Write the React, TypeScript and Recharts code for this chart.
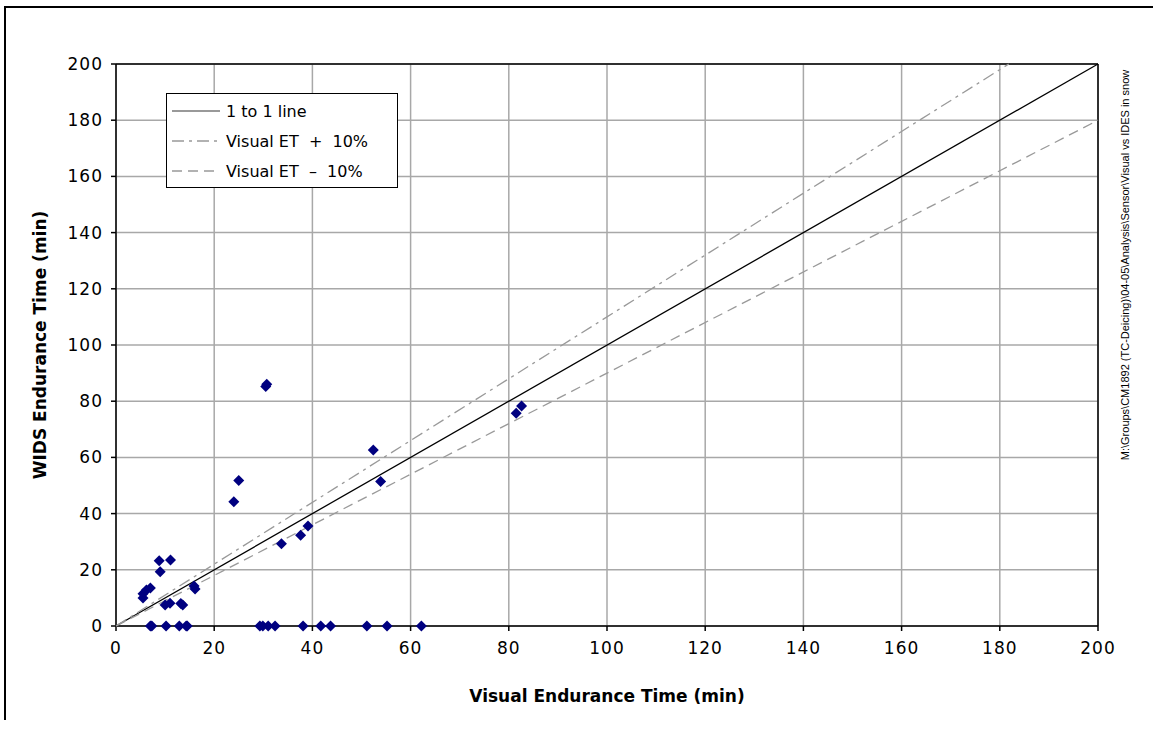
import React from "react";
import {
  ScatterChart,
  Scatter,
  XAxis,
  YAxis,
  CartesianGrid,
  ReferenceLine
} from "recharts";

// visual endurance time (x) vs WIDS endurance time (y), minutes
const visualET = [
  5.5, 5.5, 6.2, 7, 8.8, 9.0, 11.1, 10.0, 11.0, 13.2, 13.6, 15.9, 16.1,
  7.0, 7.3, 10.2, 12.9, 14.3, 14.5,
  24.0, 25.0, 30.5, 30.7, 33.7, 37.6, 39.1, 52.4, 53.9, 81.5, 82.6,
  29.3, 29.9, 31.0, 32.4, 38.1, 41.7, 43.7, 51.1, 55.2, 62.2
];
const widsET = [
  10, 11.5, 12.8, 13.5, 23.2, 19.3, 23.5, 7.5, 8.1, 8.0, 7.5, 14.2, 13.2,
  0, 0, 0, 0, 0, 0,
  44.2, 51.8, 85.2, 86.0, 29.3, 32.3, 35.6, 62.6, 51.4, 75.7, 78.3,
  0, 0, 0, 0, 0, 0, 0, 0, 0, 0
];

const oneToOneX = [0, 200];
const oneToOneY = [0, 200];
const plusTenX = [0, 181.82];
const plusTenY = [0, 200];
const minusTenX = [0, 200];
const minusTenY = [0, 180];

const axisTicks = [0, 20, 40, 60, 80, 100, 120, 140, 160, 180, 200];

const points = visualET.map((x, i) => ({ x, y: widsET[i] }));
const zip = (xs: number[], ys: number[]) => xs.map((x, i) => ({ x, y: ys[i] }));

const lineSeries = [
  { name: "1 to 1 line", data: zip(oneToOneX, oneToOneY), stroke: "#000000", dash: undefined as string | undefined, legendStroke: "#777777" },
  { name: "Visual ET  +  10%", data: zip(plusTenX, plusTenY), stroke: "#999999", dash: "12 5 3 5", legendStroke: "#999999" },
  { name: "Visual ET  \u2013  10%", data: zip(minusTenX, minusTenY), stroke: "#999999", dash: "10 6", legendStroke: "#999999" }
];

const Diamond = (props: any) => {
  const { cx, cy } = props;
  if (cx == null || cy == null) return <g />;
  const r = 5.5;
  return (
    <polygon
      points={`${cx},${cy - r} ${cx + r},${cy} ${cx},${cy + r} ${cx - r},${cy}`}
      fill="#000080"
    />
  );
};

const NoDot = () => <g />;

const LegendBox = () => (
  <div
    style={{
      position: "absolute",
      left: 166,
      top: 93,
      border: "1px solid #000",
      background: "#fff",
      width: 230,
      padding: "2px 0 1px 0",
      fontFamily: "DejaVu Sans, Verdana, sans-serif",
      fontSize: 16,
      color: "#000"
    }}
  >
    {lineSeries.map((s) => (
      <div key={s.name} style={{ display: "flex", alignItems: "center", height: 30 }}>
        <svg width={54} height={10} style={{ marginLeft: 5 }}>
          <line x1={0} y1={5} x2={48} y2={5} stroke={s.legendStroke} strokeWidth={1.5} strokeDasharray={s.dash} />
        </svg>
        <span style={{ whiteSpace: "pre" }}>{s.name}</span>
      </div>
    ))}
  </div>
);

export default function App() {
  const tickStyle = { fill: "#000", fontSize: 17, letterSpacing: 1, fontFamily: "DejaVu Sans, Verdana, sans-serif" };
  return (
    <div style={{ position: "absolute", left: 0, top: 0, width: 1153, height: 732, background: "#fff" }}>
      {/* outer frame, only left and top edges visible */}
      <div
        style={{
          position: "absolute",
          left: 4,
          top: 6,
          width: 1170,
          height: 712,
          borderLeft: "2px solid #000",
          borderTop: "2px solid #000"
        }}
      />
      <ScatterChart width={1153} height={732} margin={{ top: 64, right: 55, left: 0, bottom: 0 }}>
        <CartesianGrid stroke="#a8a8a8" strokeWidth={1.5} />
        <XAxis
          type="number"
          dataKey="x"
          domain={[0, 200]}
          ticks={axisTicks}
          height={106}
          stroke="#000"
          strokeWidth={1.5}
          tickSize={5}
          tickMargin={11}
          tick={tickStyle}
          label={{
            value: "Visual Endurance Time (min)",
            position: "insideBottom",
            offset: 30,
            style: { fill: "#000", fontSize: 17, fontWeight: "bold", fontFamily: "DejaVu Sans, Verdana, sans-serif" }
          }}
        />
        <YAxis
          type="number"
          dataKey="y"
          domain={[0, 200]}
          ticks={axisTicks}
          width={116}
          stroke="#000"
          strokeWidth={1.5}
          tickSize={5}
          tickMargin={8}
          tick={tickStyle}
          label={{
            value: "WIDS Endurance Time (min)",
            angle: -90,
            position: "insideLeft",
            offset: 40,
            style: { textAnchor: "middle", fill: "#000", fontSize: 17, fontWeight: "bold", fontFamily: "DejaVu Sans, Verdana, sans-serif" }
          }}
        />
        <ReferenceLine y={200} stroke="#000" strokeWidth={1.5} />
        <ReferenceLine x={200} stroke="#000" strokeWidth={1.5} />
        {lineSeries.map((s) => (
          <Scatter
            key={s.name}
            name={s.name}
            data={s.data}
            line={{ stroke: s.stroke, strokeWidth: 1.3, strokeDasharray: s.dash }}
            shape={NoDot}
            isAnimationActive={false}
          />
        ))}
        <Scatter name="points" data={points} shape={Diamond} isAnimationActive={false} />
      </ScatterChart>
      <LegendBox />
      <div
        style={{
          position: "absolute",
          left: 1125,
          top: 265,
          transform: "translate(-50%, -50%) rotate(-90deg)",
          whiteSpace: "nowrap",
          fontFamily: "Liberation Sans, Arial, sans-serif",
          fontSize: 11,
          color: "#000"
        }}
      >
        M:\Groups\CM1892 (TC-Deicing)\04-05\Analysis\Sensor\Visual vs IDES in snow
      </div>
    </div>
  );
}
